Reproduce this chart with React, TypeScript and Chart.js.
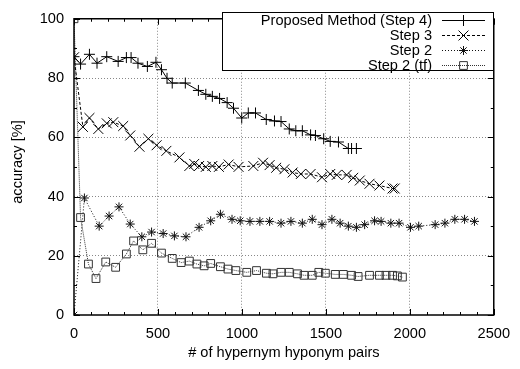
import React, { useEffect, useRef } from "react";
import { Chart, registerables } from "chart.js";

Chart.register(...registerables);

const seriesLabels = ["Proposed Method (Step 4)", "Step 3", "Step 2", "Step 2 (tf)"];

const step4X = [0, 39, 92, 137, 195, 263, 312, 340, 381, 437, 488, 521, 554, 585, 663, 741, 785, 824, 867, 912, 950, 999, 1038, 1081, 1145, 1194, 1233, 1282, 1321, 1360, 1409, 1438, 1487, 1526, 1575, 1634, 1653, 1682];
const step4Y = [87.2, 84.7, 88, 85, 87.2, 85.6, 86.9, 86.9, 85, 83.9, 85.3, 82.8, 79.9, 78.3, 78.3, 75.8, 74.5, 73.8, 73.1, 71.7, 69.8, 66.5, 68.2, 68.2, 66, 65.5, 65.3, 62.8, 62.2, 62.2, 60.8, 60.6, 59.5, 58.6, 58.4, 56.2, 56.2, 56.2];

const step3X = [0, 53, 92, 145, 195, 234, 293, 335, 390, 443, 492, 550, 628, 687, 716, 745, 785, 824, 863, 921, 980, 1068, 1126, 1165, 1204, 1253, 1302, 1351, 1409, 1477, 1526, 1565, 1624, 1663, 1702, 1760, 1819, 1897, 1910];
const step3Y = [87, 63.5, 66.5, 62.8, 64.7, 65.1, 63.8, 60.6, 56.8, 59.5, 57.3, 55.4, 53.2, 50.3, 51, 50.3, 50, 50.3, 50, 50.8, 50, 50.3, 51.4, 50.6, 49.7, 49.2, 48.1, 47.6, 47.6, 46.5, 47.6, 47.3, 47.3, 46.3, 45.4, 44.3, 43.7, 42.7, 42.7];

const step2X = [0, 62, 150, 209, 268, 335, 404, 462, 531, 598, 667, 745, 814, 872, 941, 990, 1048, 1107, 1165, 1233, 1292, 1360, 1419, 1477, 1536, 1585, 1634, 1682, 1731, 1790, 1829, 1887, 1936, 2004, 2053, 2151, 2209, 2268, 2326, 2385];
const step2Y = [0, 39.5, 30, 33.4, 36.5, 30.7, 26.4, 28, 27.5, 26.7, 26.4, 29.6, 31.8, 34, 32.3, 31.8, 31.6, 31.6, 31.6, 31, 31.6, 31, 32.3, 30.5, 32.3, 31, 30, 29.6, 30.5, 31.8, 31.6, 31, 31, 29.6, 30, 30.5, 31, 32.3, 32.3, 31.6];

const step2tfX = [0, 39, 86, 131, 189, 248, 312, 355, 410, 462, 521, 585, 638, 687, 732, 775, 814, 872, 917, 964, 1029, 1087, 1146, 1185, 1233, 1282, 1331, 1370, 1419, 1458, 1497, 1556, 1604, 1653, 1692, 1760, 1819, 1858, 1897, 1926, 1956];
const step2tfY = [100, 32.9, 17.2, 12.3, 17.9, 16.1, 20.6, 25, 22, 24.2, 20.9, 19.1, 17.7, 18.2, 17.2, 16.6, 17.4, 16.3, 15.5, 15, 14.4, 15, 14.1, 13.9, 14.4, 14.4, 13.9, 13.4, 13.4, 14.4, 14.1, 13.7, 13.7, 13.4, 13, 13.4, 13.4, 13.4, 13.4, 13.2, 12.8];

const xTickValues = [0, 500, 1000, 1500, 2000, 2500];
const yTickValues = [0, 20, 40, 60, 80, 100];
const xTitle = "# of hypernym hyponym pairs";
const yTitle = "accuracy [%]";

const FONT = "'Liberation Sans', Arial, Helvetica, sans-serif";
const FS = 14.6;

const styles = [
  { color: "#000", dash: [] as number[], point: "cross", radius: 5.5, width: 1 },
  { color: "#000", dash: [3, 2], point: "crossRot", radius: 7, width: 1 },
  { color: "#111", dash: [1, 2], point: "star", radius: 4.5, width: 1 },
  { color: "#333", dash: [1, 1], point: "rect", radius: 5.5, width: 1 },
];

function zip(xs: number[], ys: number[]) {
  return xs.map((x, i) => ({ x, y: ys[i] }));
}

function drawMarker(ctx: CanvasRenderingContext2D, style: string, x: number, y: number, r: number) {
  ctx.beginPath();
  if (style === "cross" || style === "star") {
    ctx.moveTo(x - r, y); ctx.lineTo(x + r, y);
    ctx.moveTo(x, y - r); ctx.lineTo(x, y + r);
  }
  if (style === "crossRot" || style === "star") {
    const d = r * Math.SQRT1_2;
    ctx.moveTo(x - d, y - d); ctx.lineTo(x + d, y + d);
    ctx.moveTo(x - d, y + d); ctx.lineTo(x + d, y - d);
  }
  if (style === "rect") {
    const s = r * Math.SQRT1_2;
    ctx.rect(x - s, y - s, 2 * s, 2 * s);
  }
  ctx.stroke();
}

const framePlugin = {
  id: "gnuplotFrame",
  afterDraw(chart: any) {
    const { ctx, chartArea } = chart;
    const { left, right, top, bottom } = chartArea;
    const xs = chart.scales.x;
    const ys = chart.scales.y;
    ctx.save();
    ctx.strokeStyle = "#000";
    ctx.lineWidth = 1;
    ctx.setLineDash([]);
    ctx.beginPath();
    for (let v = 0; v <= 2500; v += 100) {
      const px = Math.round(xs.getPixelForValue(v)) + 0.5;
      const len = v % 500 === 0 ? 6 : 3;
      ctx.moveTo(px, bottom); ctx.lineTo(px, bottom - len);
      ctx.moveTo(px, top); ctx.lineTo(px, top + len);
    }
    for (let v = 0; v <= 100; v += 10) {
      const py = Math.round(ys.getPixelForValue(v)) + 0.5;
      const len = v % 20 === 0 ? 6 : 3;
      ctx.moveTo(left, py); ctx.lineTo(left + len, py);
      ctx.moveTo(right, py); ctx.lineTo(right - len, py);
    }
    ctx.stroke();
    ctx.lineWidth = 1.5;
    ctx.strokeRect(left, top, right - left, bottom - top);

    ctx.fillStyle = "#000";
    ctx.font = `${FS}px ${FONT}`;
    ctx.textAlign = "center";
    ctx.textBaseline = "middle";
    ctx.fillText(xTitle, (left + right) / 2, 353);
    ctx.save();
    ctx.translate(18, 162);
    ctx.rotate(-Math.PI / 2);
    ctx.fillText(yTitle, 0, 0);
    ctx.restore();

    const bx = 222, by = 12, bw = 271, bh = 58;
    ctx.fillStyle = "#fff";
    ctx.fillRect(bx, by, bw, bh);
    ctx.lineWidth = 1;
    ctx.strokeStyle = "#000";
    ctx.strokeRect(bx + 0.5, by + 0.5, bw, bh);
    const rowY = [20, 35, 50, 65];
    ctx.textAlign = "right";
    ctx.textBaseline = "alphabetic";
    seriesLabels.forEach((lab, i) => {
      const y = rowY[i];
      const st = styles[i];
      ctx.fillStyle = "#000";
      ctx.fillText(lab, 432, y + 5);
      ctx.strokeStyle = st.color;
      ctx.lineWidth = st.width;
      ctx.setLineDash(st.dash);
      ctx.beginPath();
      ctx.moveTo(442, y + 0.5); ctx.lineTo(485, y + 0.5);
      ctx.stroke();
      ctx.setLineDash([]);
      drawMarker(ctx, st.point, 463.5, y + 0.5, st.radius);
    });
    ctx.restore();
  },
};

export default function App() {
  const ref = useRef<HTMLCanvasElement>(null);
  useEffect(() => {
    if (!ref.current) return;
    const data = [zip(step4X, step4Y), zip(step3X, step3Y), zip(step2X, step2Y), zip(step2tfX, step2tfY)];
    const chart = new Chart(ref.current, {
      type: "line",
      data: {
        datasets: data.map((d, i) => ({
          label: seriesLabels[i],
          data: d,
          borderColor: styles[i].color,
          borderWidth: styles[i].width,
          borderDash: styles[i].dash,
          pointStyle: styles[i].point as any,
          pointRadius: styles[i].radius,
          pointBorderColor: styles[i].color,
          pointBackgroundColor: "rgba(0,0,0,0)",
          pointBorderWidth: 1,
          fill: false,
          tension: 0,
        })),
      },
      options: {
        animation: false,
        responsive: false,
        devicePixelRatio: 1,
        layout: { padding: { left: 0, top: 8, right: 18, bottom: 0 } },
        plugins: { legend: { display: false }, tooltip: { enabled: false } },
        scales: {
          x: {
            type: "linear",
            min: 0,
            max: 2500,
            afterFit: (s: any) => { s.height = 54; },
            afterBuildTicks: (s: any) => { s.ticks = xTickValues.map((v) => ({ value: v })); },
            ticks: { font: { family: FONT, size: FS }, color: "#000", padding: 10, maxRotation: 0, callback: (v: any) => String(v) },
            grid: {
              drawTicks: false,
              color: (c: any) => (c.tick && (c.tick.value === 0 || c.tick.value === 2500) ? "rgba(0,0,0,0)" : "#888"),
              lineWidth: 1,
            },
            border: { display: false, dash: [1, 2] },
          },
          y: {
            type: "linear",
            min: 0,
            max: 100,
            afterFit: (s: any) => { s.width = 74; },
            afterBuildTicks: (s: any) => { s.ticks = yTickValues.map((v) => ({ value: v })); },
            ticks: { font: { family: FONT, size: FS }, color: "#000", padding: 10, callback: (v: any) => String(v) },
            grid: {
              drawTicks: false,
              color: (c: any) => (c.tick && (c.tick.value === 0 || c.tick.value === 100) ? "rgba(0,0,0,0)" : "#888"),
              lineWidth: 1,
            },
            border: { display: false, dash: [1, 2] },
          },
        },
      },
      plugins: [framePlugin],
    });
    return () => chart.destroy();
  }, []);
  return (
    <div style={{ position: "absolute", left: 0, top: 0, width: 520, height: 369, background: "#fff" }}>
      <canvas ref={ref} width={520} height={369} style={{ display: "block" }} />
    </div>
  );
}
